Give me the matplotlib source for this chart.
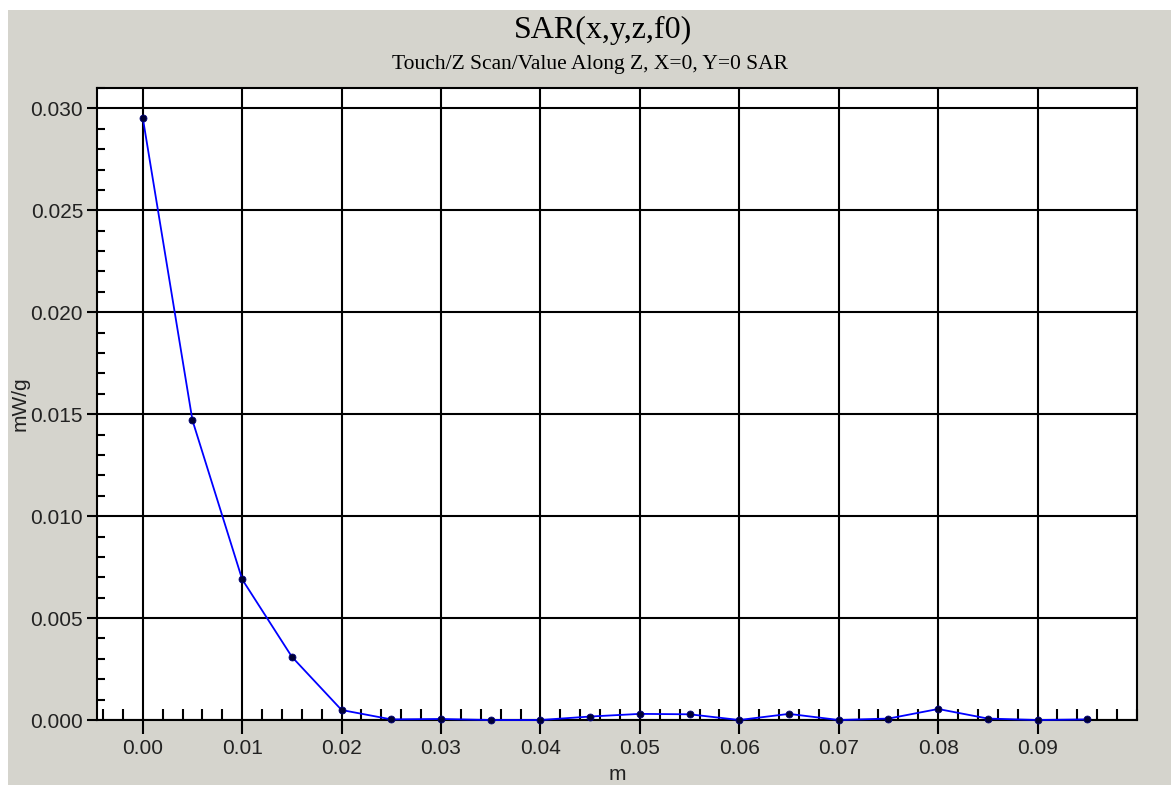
import matplotlib
matplotlib.use("Agg")
import matplotlib.pyplot as plt
from matplotlib.ticker import MultipleLocator, FixedLocator
from matplotlib.patches import Rectangle

# Data
z_m = [0.000, 0.005, 0.010, 0.015, 0.020, 0.025, 0.030, 0.035, 0.040, 0.045,
       0.050, 0.055, 0.060, 0.065, 0.070, 0.075, 0.080, 0.085, 0.090, 0.095]
sar_mwg = [0.02955, 0.0147, 0.0069, 0.0031, 0.00049, 0.00003, 0.00005, 0.0, 0.0, 0.00017,
           0.0003, 0.00028, 0.0, 0.0003, 0.0, 0.00007, 0.00054, 0.00007, 0.0, 0.00003]
x_ticks = [0.00, 0.01, 0.02, 0.03, 0.04, 0.05, 0.06, 0.07, 0.08, 0.09]
x_tick_labels = ["0.00", "0.01", "0.02", "0.03", "0.04", "0.05", "0.06", "0.07", "0.08", "0.09"]
y_ticks = [0.000, 0.005, 0.010, 0.015, 0.020, 0.025, 0.030]
y_tick_labels = ["0.000", "0.005", "0.010", "0.015", "0.020", "0.025", "0.030"]
title = "SAR(x,y,z,f0)"
subtitle = "Touch/Z Scan/Value Along Z, X=0, Y=0 SAR"

W, H = 1171, 785
fig = plt.figure(figsize=(W / 100, H / 100), dpi=100, facecolor="white")
gray = "#d5d4cd"
fig.patches.append(Rectangle((8 / W, 0), 1 - 8 / W, 1 - 10 / H, transform=fig.transFigure,
                             facecolor=gray, edgecolor="none", zorder=-10))

ax = fig.add_axes([97 / W, (H - 720) / H, (1137 - 97) / W, (720 - 88) / H])
ax.set_facecolor("white")

ax.plot(z_m, sar_mwg, color="#0000ff", lw=1.3, zorder=3, clip_on=False,
        marker="o", markersize=5, markerfacecolor="#000033", markeredgecolor="#00007a",
        markeredgewidth=0.6)

ax.set_xlim(-0.0046, 0.1)
ax.set_ylim(0.0, 0.031)

ax.xaxis.set_major_locator(FixedLocator(x_ticks))
ax.set_xticklabels(x_tick_labels)
ax.yaxis.set_major_locator(FixedLocator(y_ticks))
ax.set_yticklabels(y_tick_labels)
ax.xaxis.set_minor_locator(MultipleLocator(0.002))
ax.yaxis.set_minor_locator(MultipleLocator(0.001))

ax.grid(True, which="major", color="black", lw=1.5, zorder=1)
ax.set_axisbelow(True)

ax.tick_params(axis="x", which="major", direction="out", length=10, width=1.5,
               labelsize=15, pad=4, colors="black")
ax.tick_params(axis="y", which="major", direction="out", length=7, width=1.5,
               labelsize=15, pad=3, colors="black")
ax.tick_params(axis="x", which="minor", direction="in", length=8, width=1.5)
ax.tick_params(axis="y", which="minor", direction="in", length=6, width=1.5)
for lab in ax.get_xticklabels() + ax.get_yticklabels():
    lab.set_fontfamily("Liberation Sans")
    lab.set_color("#222222")

for s in ax.spines.values():
    s.set_color("black")
    s.set_linewidth(1.5)

fig.text(20 / W, 1 - 404 / H, "mW/g", rotation=90, ha="center", va="center",
         fontsize=15, family="Liberation Sans", color="#222222")
fig.text(617 / W, 1 - 775 / H, "m", ha="center", va="center",
         fontsize=15, family="Liberation Sans", color="#222222")
fig.text(603 / W, 1 - 30 / H, title, ha="center", va="center",
         fontsize=23, family="Liberation Serif", color="black")
fig.text(590 / W, 1 - 64 / H, subtitle, ha="center", va="center",
         fontsize=15.5, family="Liberation Serif", color="black")

fig.savefig("out.png", dpi=100, facecolor=fig.get_facecolor())
